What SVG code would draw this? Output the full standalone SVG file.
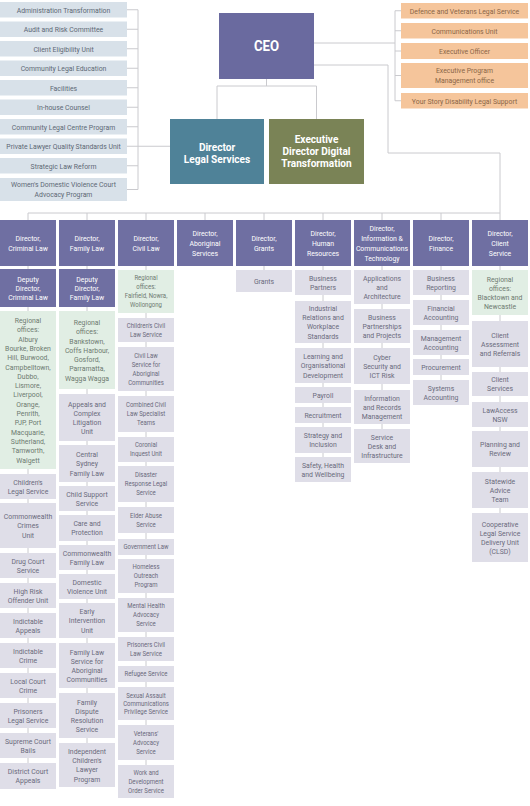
<svg xmlns="http://www.w3.org/2000/svg" width="530" height="806" viewBox="0 0 530 806">
<style>
.t{font-family:Roboto,"Liberation Sans",sans-serif;font-size:8px;text-anchor:middle}
.w{fill:#fff}
.g{fill:#6a6a7c}
.gl{fill:#5d6875}
.go{fill:#8a6547}
.gg{fill:#6d7a70}
.s7{font-size:7px}
.b{font-weight:bold}
.lb{fill:#d8e1e9}
.ob{fill:#f5c59b}
.pb{fill:#6f6fa2}
.gb{fill:#e1eee4}
.sb{fill:#dfdee8}
.ln{stroke:#cacace;stroke-width:1;fill:none}
</style>
<rect width="530" height="806" fill="#fff"/>
<g id="connectors" class="ln">
<path d="M127 9.75H138M127 29.25H138M127 48.75H138M127 68.25H138M127 87.75H138M127 107.25H138M127 126.75H138M127 146.25H138M127 165.75H138M127 189.5H138M138 9.75V189.5M138 146.25H170"/>
<path d="M395 10.75H401M395 30.75H401M395 51H401M395 75.5H401M395 100.75H401M395 10.75V100.75M314 43H395"/>
<path d="M266.5 79V86M217 86H316.5M217 86V119M316.5 86V119"/>
<path d="M314 65H388V153H500V220"/>
<path d="M28 213H500M28 213V220M87 213V220M146 213V220M205 213V220M264 213V220M323 213V220M382 213V220M441 213V220"/>
<path d="M28 266V763M87 266V743M146 266V765M264 266V270M323 266V457M382 266V429M441 266V380M500 266V513"/>
</g>

<g id="ceo"><rect x="219" y="13" width="95" height="66" fill="#6a6a9f"/><text class="t w b" style="font-size:15px" transform="translate(266.5 0) scale(.88 1)"><tspan x="0" y="51.3">CEO</tspan></text></g>
<g id="dir-legal"><rect x="170" y="119" width="94" height="65" fill="#4f8298"/><text class="t w b" style="font-size:11px" transform="translate(217 0) scale(.92 1)"><tspan x="0" y="150.7">Director</tspan><tspan x="0" dy="12">Legal Services</tspan></text></g>
<g id="exec-digital"><rect x="269" y="119" width="95" height="65" fill="#7a8356"/><text class="t w b" style="font-size:11px" transform="translate(316.5 0) scale(.92 1)"><tspan x="0" y="142.7">Executive</tspan><tspan x="0" dy="12">Director Digital</tspan><tspan x="0" dy="12">Transformation</tspan></text></g>

<g id="left-list">
<g id="l1"><rect class="lb" x="0" y="2" width="127" height="15.5"/><text class="t gl" transform="translate(63.5 0) scale(.86 1)"><tspan x="0" y="12.6">Administration Transformation</tspan></text></g>
<g id="l2"><rect class="lb" x="0" y="21.5" width="127" height="15.5"/><text class="t gl" transform="translate(63.5 0) scale(.86 1)"><tspan x="0" y="32.1">Audit and Risk Committee</tspan></text></g>
<g id="l3"><rect class="lb" x="0" y="41" width="127" height="15.5"/><text class="t gl" transform="translate(63.5 0) scale(.86 1)"><tspan x="0" y="51.6">Client Eligibility Unit</tspan></text></g>
<g id="l4"><rect class="lb" x="0" y="60.5" width="127" height="15.5"/><text class="t gl" transform="translate(63.5 0) scale(.86 1)"><tspan x="0" y="71.1">Community Legal Education</tspan></text></g>
<g id="l5"><rect class="lb" x="0" y="80" width="127" height="15.5"/><text class="t gl" transform="translate(63.5 0) scale(.86 1)"><tspan x="0" y="90.6">Facilities</tspan></text></g>
<g id="l6"><rect class="lb" x="0" y="99.5" width="127" height="15.5"/><text class="t gl" transform="translate(63.5 0) scale(.86 1)"><tspan x="0" y="110.1">In-house Counsel</tspan></text></g>
<g id="l7"><rect class="lb" x="0" y="119" width="127" height="15.5"/><text class="t gl" transform="translate(63.5 0) scale(.86 1)"><tspan x="0" y="129.6">Community Legal Centre Program</tspan></text></g>
<g id="l8"><rect class="lb" x="0" y="138.5" width="127" height="15.5"/><text class="t gl" transform="translate(63.5 0) scale(.86 1)"><tspan x="0" y="149.1">Private Lawyer Quality Standards Unit</tspan></text></g>
<g id="l9"><rect class="lb" x="0" y="158" width="127" height="15.5"/><text class="t gl" transform="translate(63.5 0) scale(.86 1)"><tspan x="0" y="168.6">Strategic Law Reform</tspan></text></g>
<g id="l10"><rect class="lb" x="0" y="178" width="127" height="23"/><text class="t gl" transform="translate(63.5 0) scale(.86 1)"><tspan x="0" y="187.35">Women's Domestic Violence Court</tspan><tspan x="0" dy="10">Advocacy Program</tspan></text></g>
</g>

<g id="right-list">
<g id="r1"><rect class="ob" x="401" y="3" width="127" height="15.5"/><text class="t go" transform="translate(464.5 0) scale(.86 1)"><tspan x="0" y="13.6">Defence and Veterans Legal Service</tspan></text></g>
<g id="r2"><rect class="ob" x="401" y="23" width="127" height="15.5"/><text class="t go" transform="translate(464.5 0) scale(.86 1)"><tspan x="0" y="33.6">Communications Unit</tspan></text></g>
<g id="r3"><rect class="ob" x="401" y="43" width="127" height="16"/><text class="t go" transform="translate(464.5 0) scale(.86 1)"><tspan x="0" y="53.85">Executive Officer</tspan></text></g>
<g id="r4"><rect class="ob" x="401" y="63" width="127" height="25"/><text class="t go" transform="translate(464.5 0) scale(.86 1)"><tspan x="0" y="73.35">Executive Program</tspan><tspan x="0" dy="10">Management office</tspan></text></g>
<g id="r5"><rect class="ob" x="401" y="93" width="127" height="15.5"/><text class="t go" transform="translate(464.5 0) scale(.86 1)"><tspan x="0" y="103.6">Your Story Disability Legal Support</tspan></text></g>
</g>

<g id="headers">
<g id="h1"><rect class="pb" x="0" y="220" width="56" height="46"/><text class="t w" transform="translate(28 0) scale(.86 1)"><tspan x="0" y="240.85">Director,</tspan><tspan x="0" dy="10">Criminal Law</tspan></text></g>
<g id="h2"><rect class="pb" x="59" y="220" width="56" height="46"/><text class="t w" transform="translate(87 0) scale(.86 1)"><tspan x="0" y="240.85">Director,</tspan><tspan x="0" dy="10">Family Law</tspan></text></g>
<g id="h3"><rect class="pb" x="118" y="220" width="56" height="46"/><text class="t w" transform="translate(146 0) scale(.86 1)"><tspan x="0" y="240.85">Director,</tspan><tspan x="0" dy="10">Civil Law</tspan></text></g>
<g id="h4"><rect class="pb" x="177" y="220" width="56" height="46"/><text class="t w" transform="translate(205 0) scale(.86 1)"><tspan x="0" y="235.85">Director,</tspan><tspan x="0" dy="10">Aboriginal</tspan><tspan x="0" dy="10">Services</tspan></text></g>
<g id="h5"><rect class="pb" x="236" y="220" width="56" height="46"/><text class="t w" transform="translate(264 0) scale(.86 1)"><tspan x="0" y="240.85">Director,</tspan><tspan x="0" dy="10">Grants</tspan></text></g>
<g id="h6"><rect class="pb" x="295" y="220" width="56" height="46"/><text class="t w" transform="translate(323 0) scale(.86 1)"><tspan x="0" y="235.85">Director,</tspan><tspan x="0" dy="10">Human</tspan><tspan x="0" dy="10">Resources</tspan></text></g>
<g id="h7"><rect class="pb" x="354" y="220" width="56" height="46"/><text class="t w" transform="translate(382 0) scale(.86 1)"><tspan x="0" y="230.85">Director,</tspan><tspan x="0" dy="10">Information &amp;</tspan><tspan x="0" dy="10">Communications</tspan><tspan x="0" dy="10">Technology</tspan></text></g>
<g id="h8"><rect class="pb" x="413" y="220" width="56" height="46"/><text class="t w" transform="translate(441 0) scale(.86 1)"><tspan x="0" y="240.85">Director,</tspan><tspan x="0" dy="10">Finance</tspan></text></g>
<g id="h9"><rect class="pb" x="472" y="220" width="56" height="46"/><text class="t w" transform="translate(500 0) scale(.86 1)"><tspan x="0" y="235.85">Director,</tspan><tspan x="0" dy="10">Client</tspan><tspan x="0" dy="10">Service</tspan></text></g>
</g>

<g id="col-criminal">
<g id="c1-deputy"><rect class="pb" x="0" y="269" width="56" height="38"/><text class="t w" transform="translate(28 0) scale(.86 1)"><tspan x="0" y="281.85">Deputy</tspan><tspan x="0" dy="9">Director,</tspan><tspan x="0" dy="9">Criminal Law</tspan></text></g>
<g id="c1-regional"><rect class="gb" x="0" y="311" width="56" height="158"/><text class="t gg" transform="translate(28 0) scale(.86 1)"><tspan x="0" y="323.1">Regional</tspan><tspan x="0" dy="9.3">offices:</tspan><tspan x="0" dy="9.3">Albury</tspan><tspan x="0" dy="9.3">Bourke, Broken</tspan><tspan x="0" dy="9.3">Hill, Burwood,</tspan><tspan x="0" dy="9.3">Campbelltown,</tspan><tspan x="0" dy="9.3">Dubbo,</tspan><tspan x="0" dy="9.3">Lismore,</tspan><tspan x="0" dy="9.3">Liverpool,</tspan><tspan x="0" dy="9.3">Orange,</tspan><tspan x="0" dy="9.3">Penrith,</tspan><tspan x="0" dy="9.3">PJP, Port</tspan><tspan x="0" dy="9.3">Macquarie,</tspan><tspan x="0" dy="9.3">Sutherland,</tspan><tspan x="0" dy="9.3">Tamworth,</tspan><tspan x="0" dy="9.3">Walgett</tspan></text></g>
<g id="c1-childrens"><rect class="sb" x="0" y="474" width="56" height="25"/><text class="t g" transform="translate(28 0) scale(.86 1)"><tspan x="0" y="484.75">Children's</tspan><tspan x="0" dy="9.2">Legal Service</tspan></text></g>
<g id="c1-cwcrimes"><rect class="sb" x="0" y="503" width="56" height="45"/><text class="t g" transform="translate(28 0) scale(.86 1)"><tspan x="0" y="519.15">Commonwealth</tspan><tspan x="0" dy="9.2">Crimes</tspan><tspan x="0" dy="9.2">Unit</tspan></text></g>
<g id="c1-drug"><rect class="sb" x="0" y="553" width="56" height="25"/><text class="t g" transform="translate(28 0) scale(.86 1)"><tspan x="0" y="563.75">Drug Court</tspan><tspan x="0" dy="9.2">Service</tspan></text></g>
<g id="c1-highrisk"><rect class="sb" x="0" y="583" width="56" height="25"/><text class="t g" transform="translate(28 0) scale(.86 1)"><tspan x="0" y="593.75">High Risk</tspan><tspan x="0" dy="9.2">Offender Unit</tspan></text></g>
<g id="c1-indapp"><rect class="sb" x="0" y="613" width="56" height="25"/><text class="t g" transform="translate(28 0) scale(.86 1)"><tspan x="0" y="623.75">Indictable</tspan><tspan x="0" dy="9.2">Appeals</tspan></text></g>
<g id="c1-indcrime"><rect class="sb" x="0" y="643" width="56" height="25"/><text class="t g" transform="translate(28 0) scale(.86 1)"><tspan x="0" y="653.75">Indictable</tspan><tspan x="0" dy="9.2">Crime</tspan></text></g>
<g id="c1-local"><rect class="sb" x="0" y="673" width="56" height="25"/><text class="t g" transform="translate(28 0) scale(.86 1)"><tspan x="0" y="683.75">Local Court</tspan><tspan x="0" dy="9.2">Crime</tspan></text></g>
<g id="c1-prisoners"><rect class="sb" x="0" y="703" width="56" height="25"/><text class="t g" transform="translate(28 0) scale(.86 1)"><tspan x="0" y="713.75">Prisoners</tspan><tspan x="0" dy="9.2">Legal Service</tspan></text></g>
<g id="c1-supreme"><rect class="sb" x="0" y="733" width="56" height="25"/><text class="t g" transform="translate(28 0) scale(.86 1)"><tspan x="0" y="743.75">Supreme Court</tspan><tspan x="0" dy="9.2">Bails</tspan></text></g>
<g id="c1-district"><rect class="sb" x="0" y="763" width="56" height="26"/><text class="t g" transform="translate(28 0) scale(.86 1)"><tspan x="0" y="774.25">District Court</tspan><tspan x="0" dy="9.2">Appeals</tspan></text></g>
</g>

<g id="col-family">
<g id="c2-deputy"><rect class="pb" x="59" y="269" width="56" height="38"/><text class="t w" transform="translate(87 0) scale(.86 1)"><tspan x="0" y="281.85">Deputy</tspan><tspan x="0" dy="9">Director,</tspan><tspan x="0" dy="9">Family Law</tspan></text></g>
<g id="c2-regional"><rect class="gb" x="59" y="311" width="56" height="78"/><text class="t gg" transform="translate(87 0) scale(.86 1)"><tspan x="0" y="324.95">Regional</tspan><tspan x="0" dy="9.3">offices:</tspan><tspan x="0" dy="9.3">Bankstown,</tspan><tspan x="0" dy="9.3">Coffs Harbour,</tspan><tspan x="0" dy="9.3">Gosford,</tspan><tspan x="0" dy="9.3">Parramatta,</tspan><tspan x="0" dy="9.3">Wagga Wagga</tspan></text></g>
<g id="c2-appeals"><rect class="sb" x="59" y="394" width="56" height="47"/><text class="t g" transform="translate(87 0) scale(.86 1)"><tspan x="0" y="406.55">Appeals and</tspan><tspan x="0" dy="9.2">Complex</tspan><tspan x="0" dy="9.2">Litigation</tspan><tspan x="0" dy="9.2">Unit</tspan></text></g>
<g id="c2-central"><rect class="sb" x="59" y="445" width="56" height="37"/><text class="t g" transform="translate(87 0) scale(.86 1)"><tspan x="0" y="457.15">Central</tspan><tspan x="0" dy="9.2">Sydney</tspan><tspan x="0" dy="9.2">Family Law</tspan></text></g>
<g id="c2-childsupport"><rect class="sb" x="59" y="486" width="56" height="25"/><text class="t g" transform="translate(87 0) scale(.86 1)"><tspan x="0" y="496.75">Child Support</tspan><tspan x="0" dy="9.2">Service</tspan></text></g>
<g id="c2-care"><rect class="sb" x="59" y="515" width="56" height="26"/><text class="t g" transform="translate(87 0) scale(.86 1)"><tspan x="0" y="526.25">Care and</tspan><tspan x="0" dy="9.2">Protection</tspan></text></g>
<g id="c2-cwfamily"><rect class="sb" x="59" y="545" width="56" height="25"/><text class="t g" transform="translate(87 0) scale(.86 1)"><tspan x="0" y="555.75">Commonwealth</tspan><tspan x="0" dy="9.2">Family Law</tspan></text></g>
<g id="c2-dv"><rect class="sb" x="59" y="574" width="56" height="25"/><text class="t g" transform="translate(87 0) scale(.86 1)"><tspan x="0" y="584.75">Domestic</tspan><tspan x="0" dy="9.2">Violence Unit</tspan></text></g>
<g id="c2-early"><rect class="sb" x="59" y="603" width="56" height="35"/><text class="t g" transform="translate(87 0) scale(.86 1)"><tspan x="0" y="614.15">Early</tspan><tspan x="0" dy="9.2">Intervention</tspan><tspan x="0" dy="9.2">Unit</tspan></text></g>
<g id="c2-flsac"><rect class="sb" x="59" y="643" width="56" height="45"/><text class="t g" transform="translate(87 0) scale(.86 1)"><tspan x="0" y="654.55">Family Law</tspan><tspan x="0" dy="9.2">Service for</tspan><tspan x="0" dy="9.2">Aboriginal</tspan><tspan x="0" dy="9.2">Communities</tspan></text></g>
<g id="c2-fdrs"><rect class="sb" x="59" y="693" width="56" height="45"/><text class="t g" transform="translate(87 0) scale(.86 1)"><tspan x="0" y="704.55">Family</tspan><tspan x="0" dy="9.2">Dispute</tspan><tspan x="0" dy="9.2">Resolution</tspan><tspan x="0" dy="9.2">Service</tspan></text></g>
<g id="c2-iclp"><rect class="sb" x="59" y="743" width="56" height="44"/><text class="t g" transform="translate(87 0) scale(.86 1)"><tspan x="0" y="754.05">Independent</tspan><tspan x="0" dy="9.2">Children's</tspan><tspan x="0" dy="9.2">Lawyer</tspan><tspan x="0" dy="9.2">Program</tspan></text></g>
</g>

<g id="col-civil">
<g id="c3-regional"><rect class="gb" x="118" y="270" width="56" height="43"/><text class="t gg s7" transform="translate(146 0) scale(.86 1)"><tspan x="0" y="280.5">Regional</tspan><tspan x="0" dy="9">offices:</tspan><tspan x="0" dy="9">Fairfield, Nowra,</tspan><tspan x="0" dy="9">Wollongong</tspan></text></g>
<g id="c3-childrens"><rect class="sb" x="118" y="318" width="56" height="24"/><text class="t g s7" transform="translate(146 0) scale(.86 1)"><tspan x="0" y="328">Children's Civil</tspan><tspan x="0" dy="9">Law Service</tspan></text></g>
<g id="c3-clsac"><rect class="sb" x="118" y="347" width="56" height="44"/><text class="t g s7" transform="translate(146 0) scale(.86 1)"><tspan x="0" y="358">Civil Law</tspan><tspan x="0" dy="9">Service for</tspan><tspan x="0" dy="9">Aboriginal</tspan><tspan x="0" dy="9">Communities</tspan></text></g>
<g id="c3-combined"><rect class="sb" x="118" y="396" width="56" height="36"/><text class="t g s7" transform="translate(146 0) scale(.86 1)"><tspan x="0" y="407.5">Combined Civil</tspan><tspan x="0" dy="9">Law Specialist</tspan><tspan x="0" dy="9">Teams</tspan></text></g>
<g id="c3-coronial"><rect class="sb" x="118" y="437" width="56" height="25"/><text class="t g s7" transform="translate(146 0) scale(.86 1)"><tspan x="0" y="447.5">Coronial</tspan><tspan x="0" dy="9">Inquest Unit</tspan></text></g>
<g id="c3-disaster"><rect class="sb" x="118" y="466" width="56" height="36"/><text class="t g s7" transform="translate(146 0) scale(.86 1)"><tspan x="0" y="477.5">Disaster</tspan><tspan x="0" dy="9">Response Legal</tspan><tspan x="0" dy="9">Service</tspan></text></g>
<g id="c3-elder"><rect class="sb" x="118" y="507" width="56" height="26"/><text class="t g s7" transform="translate(146 0) scale(.86 1)"><tspan x="0" y="518">Elder Abuse</tspan><tspan x="0" dy="9">Service</tspan></text></g>
<g id="c3-govt"><rect class="sb" x="118" y="539" width="56" height="16"/><text class="t g s7" transform="translate(146 0) scale(.86 1)"><tspan x="0" y="549.5">Government Law</tspan></text></g>
<g id="c3-homeless"><rect class="sb" x="118" y="559" width="56" height="34"/><text class="t g s7" transform="translate(146 0) scale(.86 1)"><tspan x="0" y="569.5">Homeless</tspan><tspan x="0" dy="9">Outreach</tspan><tspan x="0" dy="9">Program</tspan></text></g>
<g id="c3-mental"><rect class="sb" x="118" y="598" width="56" height="34"/><text class="t g s7" transform="translate(146 0) scale(.86 1)"><tspan x="0" y="608.5">Mental Health</tspan><tspan x="0" dy="9">Advocacy</tspan><tspan x="0" dy="9">Service</tspan></text></g>
<g id="c3-prisoners"><rect class="sb" x="118" y="637" width="56" height="24"/><text class="t g s7" transform="translate(146 0) scale(.86 1)"><tspan x="0" y="647">Prisoners Civil</tspan><tspan x="0" dy="9">Law Service</tspan></text></g>
<g id="c3-refugee"><rect class="sb" x="118" y="666" width="56" height="16"/><text class="t g s7" transform="translate(146 0) scale(.86 1)"><tspan x="0" y="676.5">Refugee Service</tspan></text></g>
<g id="c3-sacps"><rect class="sb" x="118" y="687" width="56" height="33"/><text class="t g s7" transform="translate(146 0) scale(.86 1)"><tspan x="0" y="698">Sexual Assault</tspan><tspan x="0" dy="8">Communications</tspan><tspan x="0" dy="8">Privilege Service</tspan></text></g>
<g id="c3-veterans"><rect class="sb" x="118" y="725" width="56" height="35"/><text class="t g s7" transform="translate(146 0) scale(.86 1)"><tspan x="0" y="736">Veterans'</tspan><tspan x="0" dy="9">Advocacy</tspan><tspan x="0" dy="9">Service</tspan></text></g>
<g id="c3-wdo"><rect class="sb" x="118" y="765" width="56" height="33"/><text class="t g s7" transform="translate(146 0) scale(.86 1)"><tspan x="0" y="775">Work and</tspan><tspan x="0" dy="9">Development</tspan><tspan x="0" dy="9">Order Service</tspan></text></g>
</g>

<g id="col-grants">
<g id="c5-grants"><rect class="sb" x="236" y="270" width="56" height="22"/><text class="t g" transform="translate(264 0) scale(.86 1)"><tspan x="0" y="283.85">Grants</tspan></text></g>
</g>

<g id="col-hr">
<g id="c6-bp"><rect class="sb" x="295" y="270" width="56" height="25"/><text class="t g" transform="translate(323 0) scale(.86 1)"><tspan x="0" y="280.75">Business</tspan><tspan x="0" dy="9.2">Partners</tspan></text></g>
<g id="c6-ir"><rect class="sb" x="295" y="301" width="56" height="42"/><text class="t g" transform="translate(323 0) scale(.86 1)"><tspan x="0" y="311.05">Industrial</tspan><tspan x="0" dy="9.2">Relations and</tspan><tspan x="0" dy="9.2">Workplace</tspan><tspan x="0" dy="9.2">Standards</tspan></text></g>
<g id="c6-learning"><rect class="sb" x="295" y="348" width="56" height="35"/><text class="t g" transform="translate(323 0) scale(.86 1)"><tspan x="0" y="359.15">Learning and</tspan><tspan x="0" dy="9.2">Organisational</tspan><tspan x="0" dy="9.2">Development</tspan></text></g>
<g id="c6-payroll"><rect class="sb" x="295" y="387" width="56" height="16"/><text class="t g" transform="translate(323 0) scale(.86 1)"><tspan x="0" y="397.85">Payroll</tspan></text></g>
<g id="c6-recruit"><rect class="sb" x="295" y="407" width="56" height="16"/><text class="t g" transform="translate(323 0) scale(.86 1)"><tspan x="0" y="417.85">Recruitment</tspan></text></g>
<g id="c6-strategy"><rect class="sb" x="295" y="427" width="56" height="26"/><text class="t g" transform="translate(323 0) scale(.86 1)"><tspan x="0" y="438.25">Strategy and</tspan><tspan x="0" dy="9.2">Inclusion</tspan></text></g>
<g id="c6-safety"><rect class="sb" x="295" y="457" width="56" height="25"/><text class="t g" transform="translate(323 0) scale(.86 1)"><tspan x="0" y="467.75">Safety, Health</tspan><tspan x="0" dy="9.2">and Wellbeing</tspan></text></g>
</g>

<g id="col-ict">
<g id="c7-apps"><rect class="sb" x="354" y="270" width="56" height="34"/><text class="t g" transform="translate(382 0) scale(.86 1)"><tspan x="0" y="280.65">Applications</tspan><tspan x="0" dy="9.2">and</tspan><tspan x="0" dy="9.2">Architecture</tspan></text></g>
<g id="c7-bpp"><rect class="sb" x="354" y="309" width="56" height="34"/><text class="t g" transform="translate(382 0) scale(.86 1)"><tspan x="0" y="319.65">Business</tspan><tspan x="0" dy="9.2">Partnerships</tspan><tspan x="0" dy="9.2">and Projects</tspan></text></g>
<g id="c7-cyber"><rect class="sb" x="354" y="348" width="56" height="36"/><text class="t g" transform="translate(382 0) scale(.86 1)"><tspan x="0" y="359.65">Cyber</tspan><tspan x="0" dy="9.2">Security and</tspan><tspan x="0" dy="9.2">ICT Risk</tspan></text></g>
<g id="c7-info"><rect class="sb" x="354" y="390" width="56" height="34"/><text class="t g" transform="translate(382 0) scale(.86 1)"><tspan x="0" y="400.65">Information</tspan><tspan x="0" dy="9.2">and Records</tspan><tspan x="0" dy="9.2">Management</tspan></text></g>
<g id="c7-desk"><rect class="sb" x="354" y="429" width="56" height="34"/><text class="t g" transform="translate(382 0) scale(.86 1)"><tspan x="0" y="439.65">Service</tspan><tspan x="0" dy="9.2">Desk and</tspan><tspan x="0" dy="9.2">Infrastructure</tspan></text></g>
</g>

<g id="col-finance">
<g id="c8-br"><rect class="sb" x="413" y="270" width="56" height="25"/><text class="t g" transform="translate(441 0) scale(.86 1)"><tspan x="0" y="280.75">Business</tspan><tspan x="0" dy="9.2">Reporting</tspan></text></g>
<g id="c8-fa"><rect class="sb" x="413" y="300" width="56" height="25"/><text class="t g" transform="translate(441 0) scale(.86 1)"><tspan x="0" y="310.75">Financial</tspan><tspan x="0" dy="9.2">Accounting</tspan></text></g>
<g id="c8-ma"><rect class="sb" x="413" y="330" width="56" height="25"/><text class="t g" transform="translate(441 0) scale(.86 1)"><tspan x="0" y="340.75">Management</tspan><tspan x="0" dy="9.2">Accounting</tspan></text></g>
<g id="c8-proc"><rect class="sb" x="413" y="359" width="56" height="16"/><text class="t g" transform="translate(441 0) scale(.86 1)"><tspan x="0" y="369.85">Procurement</tspan></text></g>
<g id="c8-sa"><rect class="sb" x="413" y="380" width="56" height="25"/><text class="t g" transform="translate(441 0) scale(.86 1)"><tspan x="0" y="390.75">Systems</tspan><tspan x="0" dy="9.2">Accounting</tspan></text></g>
</g>

<g id="col-client">
<g id="c9-regional"><rect class="gb" x="472" y="270" width="56" height="45"/><text class="t gg" transform="translate(500 0) scale(.86 1)"><tspan x="0" y="281.55">Regional</tspan><tspan x="0" dy="9.2">offices:</tspan><tspan x="0" dy="9.2">Blacktown and</tspan><tspan x="0" dy="9.2">Newcastle</tspan></text></g>
<g id="c9-car"><rect class="sb" x="472" y="321" width="56" height="46"/><text class="t g" transform="translate(500 0) scale(.86 1)"><tspan x="0" y="337.65">Client</tspan><tspan x="0" dy="9.2">Assessment</tspan><tspan x="0" dy="9.2">and Referrals</tspan></text></g>
<g id="c9-cs"><rect class="sb" x="472" y="372" width="56" height="24"/><text class="t g" transform="translate(500 0) scale(.86 1)"><tspan x="0" y="382.25">Client</tspan><tspan x="0" dy="9.2">Services</tspan></text></g>
<g id="c9-law"><rect class="sb" x="472" y="402" width="56" height="25"/><text class="t g" transform="translate(500 0) scale(.86 1)"><tspan x="0" y="412.75">LawAccess</tspan><tspan x="0" dy="9.2">NSW</tspan></text></g>
<g id="c9-plan"><rect class="sb" x="472" y="431" width="56" height="36"/><text class="t g" transform="translate(500 0) scale(.86 1)"><tspan x="0" y="447.25">Planning and</tspan><tspan x="0" dy="9.2">Review</tspan></text></g>
<g id="c9-state"><rect class="sb" x="472" y="472" width="56" height="36"/><text class="t g" transform="translate(500 0) scale(.86 1)"><tspan x="0" y="483.65">Statewide</tspan><tspan x="0" dy="9.2">Advice</tspan><tspan x="0" dy="9.2">Team</tspan></text></g>
<g id="c9-clsd"><rect class="sb" x="472" y="513" width="56" height="49"/><text class="t g" transform="translate(500 0) scale(.86 1)"><tspan x="0" y="526.55">Cooperative</tspan><tspan x="0" dy="9.2">Legal Service</tspan><tspan x="0" dy="9.2">Delivery Unit</tspan><tspan x="0" dy="9.2">(CLSD)</tspan></text></g>
</g>
</svg>
